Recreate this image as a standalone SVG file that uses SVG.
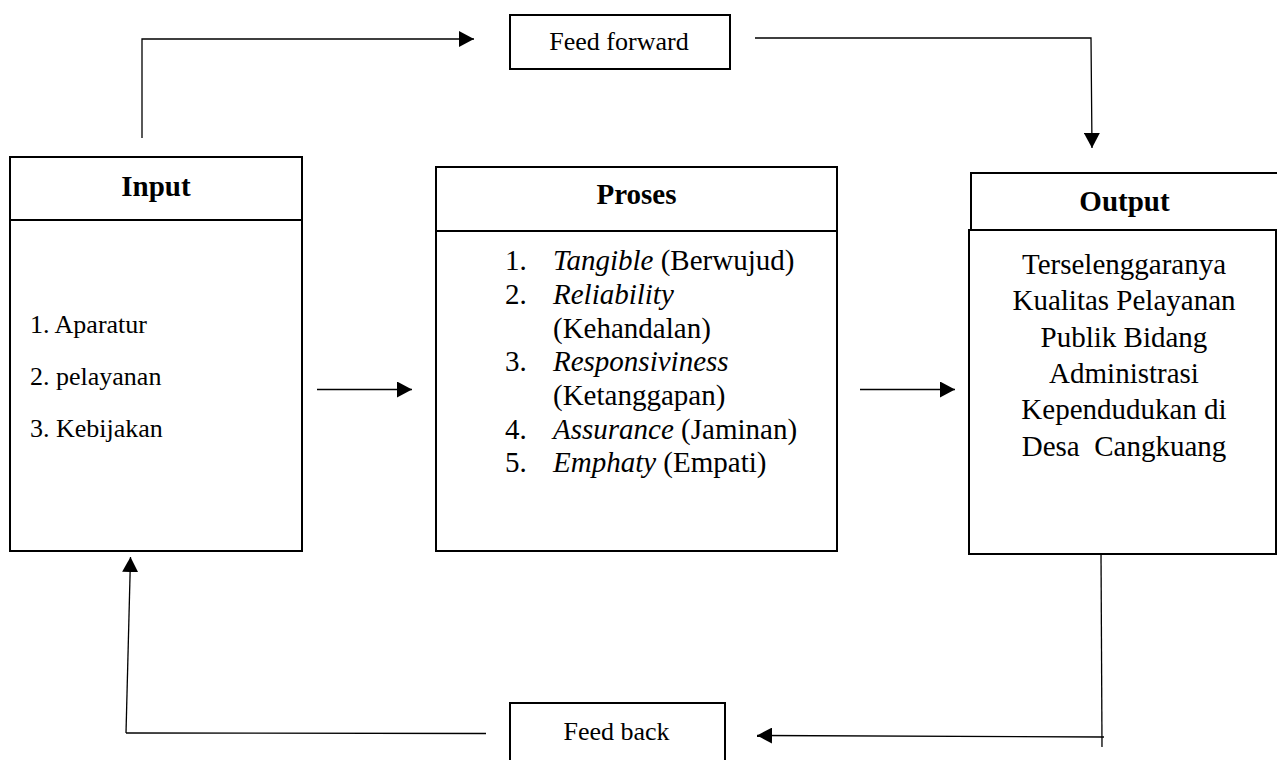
<svg xmlns="http://www.w3.org/2000/svg" width="1277" height="760" viewBox="0 0 1277 760">
<style>
.box{fill:#fff;stroke:#000;stroke-width:2}
.ln{fill:none;stroke:#000;stroke-width:1.3}
.t{font-family:"Liberation Serif","Times New Roman",serif;fill:#000}
.h{font-weight:bold;font-size:29px}
.i{font-style:italic}
</style>
<defs>
<marker id="ah" markerWidth="16" markerHeight="16" refX="15" refY="8" orient="auto" markerUnits="userSpaceOnUse">
<path d="M0,0 L15,8 L0,16 Z" fill="#000"/>
</marker>
</defs>
<rect width="1277" height="760" fill="#fff"/>
<g id="connectors">
<polyline class="ln" points="142,138 142,39 474,39" marker-end="url(#ah)"/>
<polyline class="ln" points="755,38 1091,38 1092,148" marker-end="url(#ah)"/>
<line class="ln" x1="317" y1="389.5" x2="412" y2="389.5" marker-end="url(#ah)"/>
<line class="ln" x1="860" y1="389.5" x2="955" y2="389.5" marker-end="url(#ah)"/>
<line class="ln" x1="1101" y1="552" x2="1102" y2="747"/>
<line class="ln" x1="1104" y1="737" x2="757" y2="735.5" marker-end="url(#ah)"/>
<line class="ln" x1="486" y1="733.5" x2="126" y2="733"/>
<line class="ln" x1="126" y1="733" x2="130.5" y2="557" marker-end="url(#ah)"/>
</g>
<g id="feedforward">
<rect class="box" x="510" y="15" width="220" height="54"/>
<text class="t" x="619" y="50" font-size="26" text-anchor="middle">Feed forward</text>
</g>
<g id="input">
<rect class="box" x="10" y="157" width="292" height="394"/>
<line class="box" x1="10" y1="220" x2="302" y2="220"/>
<text class="t h" x="156" y="196" text-anchor="middle">Input</text>
<text class="t" x="30" y="333" font-size="26">1. Aparatur</text>
<text class="t" x="30" y="385" font-size="26">2. pelayanan</text>
<text class="t" x="30" y="437" font-size="26">3. Kebijakan</text>
</g>
<g id="proses">
<rect class="box" x="436" y="167" width="401" height="384"/>
<line class="box" x1="436" y1="231" x2="837" y2="231"/>
<text class="t h" x="636.5" y="204" text-anchor="middle">Proses</text>
<g class="t" font-size="29">
<text x="505" y="270">1.</text><text x="553" y="270"><tspan class="i">Tangible</tspan> (Berwujud)</text>
<text x="505" y="304">2.</text><text x="553" y="304" class="i">Reliability</text>
<text x="553" y="337.5">(Kehandalan)</text>
<text x="505" y="371">3.</text><text x="553" y="371" class="i">Responsiviness</text>
<text x="553" y="405">(Ketanggapan)</text>
<text x="505" y="438.5">4.</text><text x="553" y="438.5"><tspan class="i">Assurance</tspan> (Jaminan)</text>
<text x="505" y="472">5.</text><text x="553" y="472"><tspan class="i">Emphaty</tspan> (Empati)</text>
</g>
</g>
<g id="output">
<rect class="box" x="971" y="173" width="312" height="57"/>
<rect class="box" x="969" y="230" width="307" height="324"/>
<text class="t h" x="1124.5" y="211" text-anchor="middle">Output</text>
<g class="t" font-size="29" text-anchor="middle">
<text x="1124" y="274">Terselenggaranya</text>
<text x="1124" y="310">Kualitas Pelayanan</text>
<text x="1124" y="346.5">Publik Bidang</text>
<text x="1124" y="383">Administrasi</text>
<text x="1124" y="419">Kependudukan di</text>
<text x="1124" y="455.5" xml:space="preserve">Desa  Cangkuang</text>
</g>
</g>
<g id="feedback">
<rect class="box" x="510" y="703" width="215" height="70"/>
<text class="t" x="616.5" y="739.5" font-size="26" text-anchor="middle">Feed back</text>
</g>
</svg>
